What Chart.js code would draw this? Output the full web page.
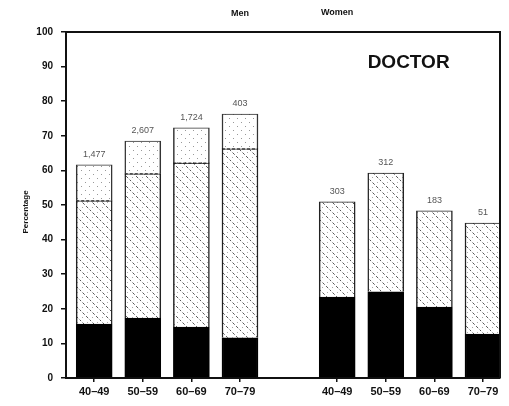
<!DOCTYPE html>
<html lang="en">
<head>
<meta charset="UTF-8">
<title>Doctor</title>
<script src="https://cdn.jsdelivr.net/npm/chart.js"></script>
<style>
  body { margin: 0; background: #fff; }
  #grafico { display: block; }
</style>
</head>
<body>
<canvas id="grafico" width="509" height="406"></canvas>
<script>
// valores (percentagem de cada segmento)
const ageGroups = ['40–49', '50–59', '60–69', '70–79'];
const menSolid = [15.6, 17.3, 14.7, 11.6];
const menHatched = [35.6, 41.7, 47.4, 54.6];
const menDotted = [10.4, 9.5, 10.2, 10.1];
const womenSolid = [23.4, 24.9, 20.5, 12.7];
const womenHatched = [27.5, 34.3, 27.8, 32.1];
const womenDotted = [0, 0, 0, 0];
const menN = ['1,477', '2,607', '1,724', '403'];
const womenN = ['303', '312', '183', '51'];
const xPos = [0, 1, 2, 3, 5, 6, 7, 8];

const FONT = 'Liberation Sans, Arial, sans-serif';

// padroes de preenchimento
function makeHatch() {
    const c = document.createElement('canvas');
    c.width = 10; c.height = 10;
    const g = c.getContext('2d');
    g.fillStyle = '#fff';
    g.fillRect(0, 0, 10, 10);
    g.strokeStyle = '#555';
    g.lineWidth = 1;
    g.setLineDash([3, 2]);
    g.beginPath();
    g.moveTo(-1, -1); g.lineTo(11, 11);
    g.stroke();
    g.fillStyle = '#aaa';
    g.fillRect(7, 2, 1, 1);
    g.fillRect(2, 7, 1, 1);
    return g.createPattern(c, 'repeat');
}
function makeDots() {
    const c = document.createElement('canvas');
    c.width = 8; c.height = 8;
    const g = c.getContext('2d');
    g.fillStyle = '#fff';
    g.fillRect(0, 0, 8, 8);
    g.fillStyle = '#999';
    g.fillRect(1, 2, 1, 1);
    g.fillRect(5, 6, 1, 1);
    return g.createPattern(c, 'repeat');
}

const toPoints = (men, women) => men.concat(women).map((v, i) => ({ x: xPos[i], y: v }));
const counts = menN.concat(womenN);

const extras = {
    id: 'extras',
    afterDatasetsDraw(chart) {
        const ctx = chart.ctx;
        const a = chart.chartArea;
        const xs = chart.scales.x, ys = chart.scales.y;
        ctx.save();
        // moldura (topo e direita)
        ctx.strokeStyle = '#111';
        ctx.lineWidth = 2;
        ctx.beginPath();
        ctx.moveTo(a.left, a.top);
        ctx.lineTo(a.right, a.top);
        ctx.lineTo(a.right, a.bottom);
        ctx.stroke();

        // linha tracejada entre hachurado e pontilhado
        ctx.lineWidth = 1;
        ctx.setLineDash([3, 2]);
        xPos.forEach((x, i) => {
            const dot = menDotted.concat(womenDotted)[i];
            if (!dot) return;
            const meta = chart.getDatasetMeta(1).data[i];
            const h = meta.width / 2;
            ctx.beginPath();
            ctx.moveTo(meta.x - h, meta.y);
            ctx.lineTo(meta.x + h, meta.y);
            ctx.stroke();
        });
        ctx.setLineDash([]);

        // numeros acima das barras
        ctx.fillStyle = '#555';
        ctx.font = '9px ' + FONT;
        ctx.textAlign = 'center';
        ctx.textBaseline = 'bottom';
        const tops = menSolid.concat(womenSolid).map((v, i) =>
            v + menHatched.concat(womenHatched)[i] + menDotted.concat(womenDotted)[i]);
        xPos.forEach((x, i) => {
            ctx.fillText(counts[i], xs.getPixelForValue(x), ys.getPixelForValue(tops[i]) - 6);
        });

        // textos
        ctx.fillStyle = '#111';
        ctx.font = 'bold 19px ' + FONT;
        ctx.textBaseline = 'middle';
        ctx.fillText('DOCTOR', xs.getPixelForValue(6.47), ys.getPixelForValue(91));
        ctx.font = 'bold 9px ' + FONT;
        ctx.fillText('Men', xs.getPixelForValue(3), 14);
        ctx.fillText('Women', xs.getPixelForValue(5), 13);

        ctx.translate(26, ys.getPixelForValue(48));
        ctx.rotate(-Math.PI / 2);
        ctx.font = 'bold 8px ' + FONT;
        ctx.fillText('Percentage', 0, 0);
        ctx.restore();
    }
};

const barBorder = { left: 1.5, right: 1.5, top: 1, bottom: 0 };

new Chart(document.getElementById('grafico'), {
    type: 'bar',
    data: {
        datasets: [
            { data: toPoints(menSolid, womenSolid), backgroundColor: '#000', borderColor: '#000', borderWidth: barBorder, borderSkipped: false },
            { data: toPoints(menHatched, womenHatched), backgroundColor: makeHatch(), borderColor: '#222', borderWidth: barBorder, borderSkipped: false },
            { data: toPoints(menDotted, womenDotted), backgroundColor: makeDots(), borderColor: '#333', borderWidth: barBorder, borderSkipped: false }
        ]
    },
    options: {
        responsive: false,
        animation: false,
        barThickness: 36,
        layout: { padding: { top: 32, right: 9, left: 0, bottom: 0 } },
        plugins: { legend: { display: false }, tooltip: { enabled: false } },
        scales: {
            x: {
                type: 'linear',
                stacked: true,
                offset: false,
                min: -0.58,
                max: 8.35,
                afterBuildTicks: (s) => { s.ticks = xPos.map(v => ({ value: v })); },
                afterFit: (s) => { s.height = 28; },
                grid: { offset: false, drawOnChartArea: false, tickLength: 4, color: '#111', lineWidth: 1.5 },
                border: { color: '#111', width: 2 },
                ticks: {
                    autoSkip: false,
                    maxRotation: 0,
                    padding: 3,
                    color: '#111',
                    font: { family: FONT, size: 11, weight: 'bold' },
                    callback: (v) => v < 4 ? ageGroups[v] : ageGroups[v - 5]
                }
            },
            y: {
                stacked: true,
                min: 0,
                max: 100,
                afterFit: (s) => { s.width = 66; },
                grid: { drawOnChartArea: false, tickLength: 5, color: '#111', lineWidth: 1.5 },
                border: { color: '#111', width: 2 },
                ticks: {
                    stepSize: 10,
                    padding: 8,
                    color: '#111',
                    font: { family: FONT, size: 10, weight: 'bold' }
                }
            }
        }
    },
    plugins: [extras]
});
</script>
</body>
</html>
